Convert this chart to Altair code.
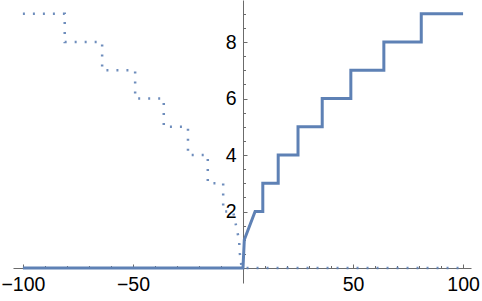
import altair as alt
import pandas as pd

re_x = [-100, 0, 0, 0.6, 5.5, 9, 9, 16, 16, 25, 25, 36, 36, 49, 49, 64, 64, 81, 81, 100]
re_y = [0, 0, 0, 1, 2, 2, 3, 3, 4, 4, 5, 5, 6, 6, 7, 7, 8, 8, 9, 9]

# Dotted series (imaginary part)
im_x = [-100, -81, -81, -64, -64, -49, -49, -36, -36, -25, -25, -16, -16, -9, -9, -4.5, -1.8, -1.4, -0.6, 100]
im_y = [9, 9, 8, 8, 7, 7, 6, 6, 5, 5, 4, 4, 3, 3, 2, 2, 1, 0.5, 0, 0]

x_labels = [-100, -50, 50, 100]
y_labels = [2, 4, 6, 8]
x_ticks = [-100, -90, -80, -70, -60, -50, -40, -30, -20, -10,
           10, 20, 30, 40, 50, 60, 70, 80, 90, 100]
y_ticks = [0.5, 1, 1.5, 2, 2.5, 3, 3.5, 4, 4.5, 5, 5.5, 6, 6.5, 7, 7.5, 8, 8.5, 9]

re_df = pd.DataFrame({"x": re_x, "y": re_y, "o": range(len(re_x))})
im_df = pd.DataFrame({"x": im_x, "y": im_y, "o": range(len(im_x))})

COLOR = "#5E81B5"
AXC = "#6b6b6b"
FONT = "Liberation Sans"

xs = alt.Scale(domain=[-104.5, 103.6], nice=False, zero=False)
ys = alt.Scale(domain=[-0.53, 9.49], nice=False, zero=False)

solid = alt.Chart(re_df).mark_line(color=COLOR, strokeWidth=3, strokeJoin="miter").encode(
    x=alt.X("x:Q", scale=xs, title=None,
            axis=alt.Axis(orient="bottom", values=x_labels, ticks=False, domain=False,
                          grid=False, labelPadding=7, labelFontSize=19.5, labelFont=FONT,
                          labelColor="black", offset=-15, labelFlush=False, format="d")),
    y=alt.Y("y:Q", scale=ys, title=None,
            axis=alt.Axis(orient="left", values=y_labels, ticks=False, domain=False,
                          grid=False, labelPadding=7, labelFontSize=19.5, labelFont=FONT,
                          labelColor="black", offset=-230, labelFlush=False, format="d")),
    order="o:Q",
)

dotted = alt.Chart(im_df).mark_line(color=COLOR, strokeWidth=2.5, strokeDash=[2, 8],
                                    opacity=0.9).encode(
    x=alt.X("x:Q", scale=xs, title=None,
            axis=alt.Axis(orient="top", values=x_ticks, labels=False, grid=False,
                          domain=True, domainColor=AXC, domainWidth=1,
                          tickColor=AXC, tickWidth=1,
                          tickSize={"condition": {"test": "datum.value % 50 === 0", "value": 4}, "value": 2.5},
                          offset=-268)),
    y=alt.Y("y:Q", scale=ys, title=None,
            axis=alt.Axis(orient="right", values=y_ticks, labels=False, grid=False,
                          domain=True, domainColor=AXC, domainWidth=1,
                          tickColor=AXC, tickWidth=1,
                          tickSize={"condition": {"test": "datum.value % 2 === 0", "value": 4}, "value": 2.5},
                          offset=-228)),
    order="o:Q",
)

chart = alt.layer(dotted, solid).resolve_axis(x="independent", y="independent").properties(
    width=458, height=283,
    autosize=alt.AutoSizeParams(type="none"),
    padding={"left": 13, "top": 0, "right": 11, "bottom": 18},
    background="white",
).configure_view(strokeOpacity=0)

chart.save("out.html", embed_options={"renderer": "svg", "actions": False})
